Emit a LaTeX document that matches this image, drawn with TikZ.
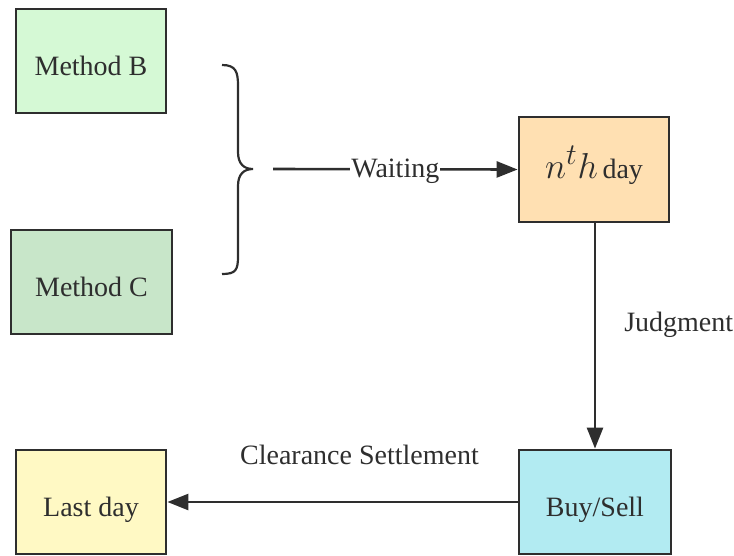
\documentclass[tikz,border=0pt]{standalone}
\usepackage{fontspec}
\setmainfont{Liberation Serif}
\usetikzlibrary{arrows.meta}
\definecolor{ink}{HTML}{2E2E2E}
\definecolor{cB}{HTML}{D5F9D5}
\definecolor{cC}{HTML}{C8E6C9}
\definecolor{cN}{HTML}{FFE0B2}
\definecolor{cBS}{HTML}{B2EBF2}
\definecolor{cL}{HTML}{FFF9C4}
\tikzset{
  box/.style={draw=ink, line width=2.8pt, minimum width=150pt, minimum height=104pt,
    inner sep=0pt, text=ink, font=\fontsize{28}{32}\selectfont, text height=28pt, text depth=0pt},
  conn/.style={draw=ink, line width=2.6pt, -{Triangle[length=21pt,width=16pt]}},
  lbl/.style={text=ink, font=\fontsize{28}{32}\selectfont, inner sep=0pt},
}
\begin{document}
\begin{tikzpicture}[x=1pt,y=-1pt]
\useasboundingbox (0,0) rectangle (734,555);
\node[box, fill=cB] (mb) at (91,61) {Method B};
\node[box, fill=cC, minimum width=161pt] (mc) at (91.5,282) {Method C};
\node[box, fill=cN, minimum height=105pt, text height=17pt] (nth) at (594,169.5) {\scalebox{1.45}{$n^t h$}\,day};
\node[box, fill=cBS, minimum width=152pt] (bs) at (595,502) {Buy/Sell};
\node[box, fill=cL] (ld) at (91,502) {Last day};
% brace
\draw[ink, line width=2.2pt] (222,65) .. controls (236,65) and (238,72) .. (238,86) -- (238,152)
  .. controls (238,164) and (244,169) .. (253,169)
  .. controls (244,169) and (238,174) .. (238,186) -- (238,256)
  .. controls (238,270) and (236,274) .. (222,274);
\coordinate (ws) at (273,169);
\draw[conn] (ws) -- (nth.west) node[midway, lbl, fill=white, inner xsep=1pt, yshift=-2pt] {Waiting};
\draw[conn] (nth.south -| 595,0) -- (bs.north) node[pos=0.45, lbl, anchor=west, xshift=28pt] {Judgment};
\draw[conn] (bs.west) -- (ld.east) node[midway, lbl, anchor=south, yshift=36pt, xshift=17pt] {Clearance Settlement};
\end{tikzpicture}
\end{document}
